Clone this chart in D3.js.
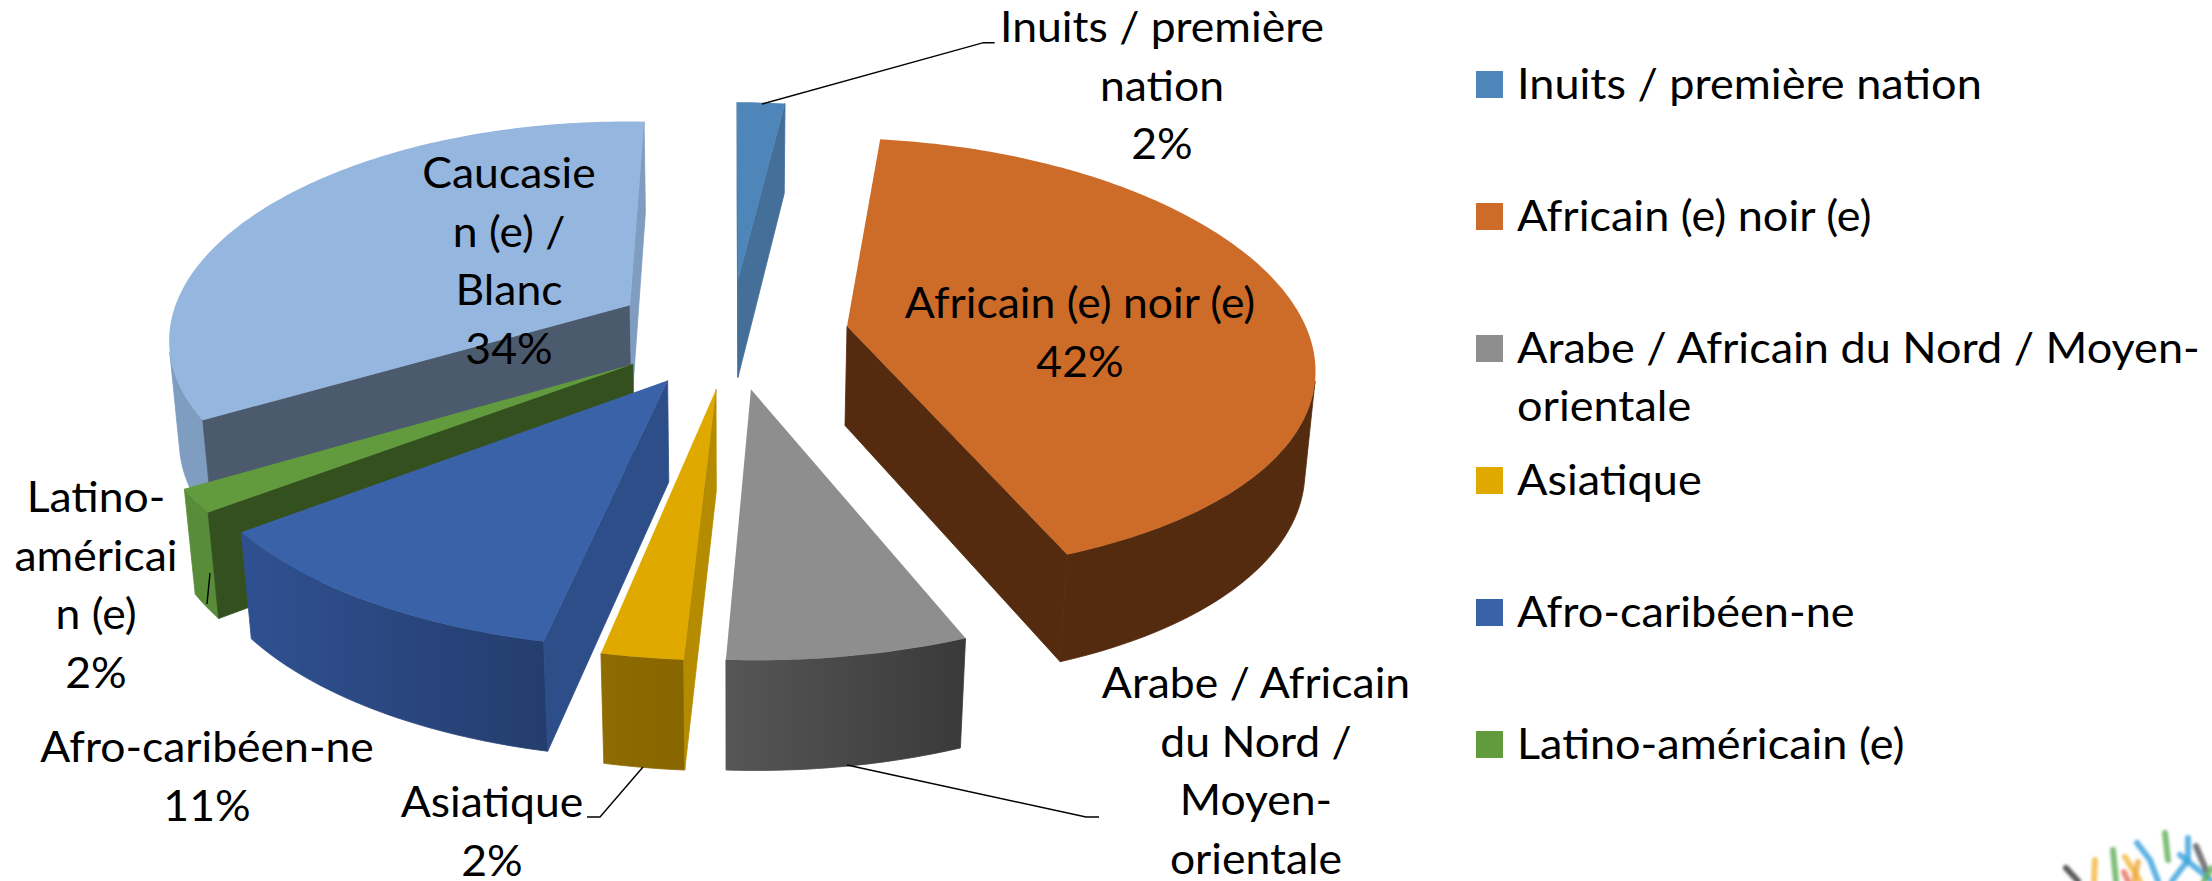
<!DOCTYPE html>
<html><head><meta charset="utf-8">
<script src="https://cdn.jsdelivr.net/npm/d3@7/dist/d3.min.js"></script>
<style>html,body{margin:0;padding:0;background:#fff;overflow:hidden}svg{display:block}text{font-family:Lato,"Open Sans",sans-serif;fill:#000}</style>
</head><body><svg id="c" width="2212" height="881"></svg>
<script>
// ---- data ----
const categories = ["Inuits / première nation","Africain (e) noir (e)","Arabe / Africain du Nord / Moyen-orientale","Asiatique","Afro-caribéen-ne","Latino-américain (e)","Caucasien (e) / Blanc"];
const values = [2,42,6.8,2.3,11.2,1.7,34];
const shownPercent = ["2%","42%",null,"2%","11%","2%","34%"];
const labelLines = [["Inuits / première","nation"],["Africain (e) noir (e)"],["Arabe / Africain","du Nord /","Moyen-","orientale"],["Asiatique"],["Afro-caribéen-ne"],["Latino-","américai","n (e)"],["Caucasie","n (e) /","Blanc"]];
const legendLines = [["Inuits / première nation"],["Africain (e) noir (e)"],["Arabe / Africain du Nord / Moyen-","orientale"],["Asiatique"],["Afro-caribéen-ne"],["Latino-américain (e)"]];
// ---- styles ----
const topColors   = ["#4f86ba","#cd6b28","#8e8e8e","#e0a900","#3a62a8","#629a3e","#95b6de"];
const startWall   = ["#436f99","#552b0f","#6a6a6a","#b58c00","#2d4e88","#35501f","#4b5b6d"];
const endWall     = ["#436f99","#552b0f","#6a6a6a","#b58c00","#2d4e88","#35501f","#7f9dc0"];
const outerLeft   = ["#436f99","#552b0f","#565656","#8f6c00","#2f5090","#588c38","#7f9dc0"];
const outerRight  = ["#436f99","#552b0f","#3a3a3a","#876500","#243d6e","#588c38","#7f9dc0"];
const paintOrder  = [6,0,1,5,4,3,2];
// ---- layout ----
const P = {cx:731, cy:333, R:461, sR:216, k:0.139, kx:0.165, m:0.025, mx:0.018, h:102, tilt:7, explode:0.255, lineH:58.5, fs:42.5};
const labelPos = [[1162,42],[1080,318],[1256,698],[492,817],[207,762],[96,512],[509,188]];
const leaders = [[[762,104],[983.5,42.7],[994.6,42.7]],[[847,765],[1086,817],[1099,817]],[[643,767],[600,817],[587,817]],[[210,573],[207,604]]];
const legend = {swatchX:1476, swatch:27, textX:1517, fs:43, lineH:58, base:27.5};
const legendTop = [71,203,335,467,599,731];
const textStretch = 1.047;
const logoStrokes = [
  ["#333",[[2066,868],[2078,881]]],["#f0b840",[[2095,860],[2094,881]]],["#5fae55",[[2113,850],[2116,881]]],
  ["#f0b840",[[2125,857],[2140,881]]],["#e8705a",[[2124,872],[2128,881]]],["#f0a840",[[2138,862],[2134,881]]],
  ["#3aa0dc",[[2137,843],[2150,860],[2158,881]]],["#3aa0dc",[[2188,838],[2188,860],[2172,881]]],["#5fae55",[[2165,833],[2168,860]]],
  ["#3aa0dc",[[2180,855],[2212,881]]],["#555",[[2196,846],[2206,870]]],["#5fae55",[[2212,868],[2204,881]]]];

const svg = d3.select("#c");
const project = (X,Y,Z)=>[P.cx+P.R*X/(1+P.kx*Y+P.mx*Z), P.cy+(-P.sR*Y+P.h*Z)/(1+P.k*Y+P.m*Z)+P.tilt*Math.min(X,0)];
const area2 = pts=>{let s=0;pts.forEach((p,i)=>{const q=pts[(i+1)%pts.length];s+=p[0]*q[1]-q[0]*p[1];});return s;};
const line = d3.line();
const poly = pts=>line(pts)+"Z";

const defs = svg.append("defs");
defs.append("filter").attr("id","soft").append("feGaussianBlur").attr("stdDeviation",1.6);

const arcs = d3.pie().sort(null).value(d=>d)(values);
const slices = svg.append("g").attr("class","pie");

paintOrder.forEach(i=>{
  const a = arcs[i], mid=(a.startAngle+a.endAngle)/2;
  const ex=P.explode*Math.sin(mid), ey=P.explode*Math.cos(mid);
  const n=Math.max(2,Math.round((a.endAngle-a.startAngle)/(Math.PI/180)));
  const angle=d3.scaleLinear().domain([0,n]).range([a.startAngle,a.endAngle]);
  const rim=d3.range(n+1).map(j=>[ex+Math.sin(angle(j)),ey+Math.cos(angle(j))]);
  const pt=(c,z)=>project(c[0],c[1],z);
  const g=slices.append("g");
  const quad=(p,q)=>[pt(p,0),pt(q,0),pt(q,1),pt(p,1)];
  const wall=(p,q,fill)=>{const f=quad(p,q);
    if(area2(f)<0) g.append("path").attr("d",poly(f)).attr("fill",fill).attr("stroke",fill).attr("stroke-width",0.8);};
  // outer rim: one smooth polygon per run of front-facing segments
  const gid="rim"+i;
  const xs=rim.map(c=>pt(c,1)[0]);
  const grad=defs.append("linearGradient").attr("id",gid).attr("gradientUnits","userSpaceOnUse")
    .attr("x1",d3.min(xs)).attr("x2",d3.max(xs)).attr("y1",0).attr("y2",0);
  grad.append("stop").attr("offset",0).attr("stop-color",outerLeft[i]);
  grad.append("stop").attr("offset",1).attr("stop-color",outerRight[i]);
  let run=[];
  const flush=()=>{ if(run.length>1){
      g.append("path").attr("d",poly([...run.map(c=>pt(c,0)),...run.slice().reverse().map(c=>pt(c,1))]))
       .attr("fill",`url(#${gid})`).attr("stroke",`url(#${gid})`).attr("stroke-width",0.8);
    } run=[]; };
  for(let j=0;j<n;j++){
    if(area2(quad(rim[j],rim[j+1]))<0){ if(!run.length) run.push(rim[j]); run.push(rim[j+1]); }
    else flush();
  }
  flush();
  wall([ex,ey],rim[0],startWall[i]);
  wall(rim[n],[ex,ey],endWall[i]);
  g.append("path").attr("d",poly([pt([ex,ey],0),...rim.map(c=>pt(c,0))])).attr("fill",topColors[i]);
});

// leader lines
svg.append("g").selectAll("path").data(leaders).join("path").attr("d",d=>line(d)).attr("fill","none").attr("stroke","#000").attr("stroke-width",1.4);

// data labels
const lab=svg.append("g").attr("font-size",P.fs).attr("text-anchor","middle");
labelLines.forEach((ls,i)=>{
  const lines=shownPercent[i]?[...ls,shownPercent[i]]:ls;
  lines.forEach((t,j)=>lab.append("text").attr("x",labelPos[i][0]).attr("y",labelPos[i][1]+j*P.lineH).text(t));
});

// legend
const lg=svg.append("g").selectAll("g").data(legendLines).join("g");
lg.append("rect").attr("x",legend.swatchX).attr("y",(d,i)=>legendTop[i]).attr("width",legend.swatch).attr("height",legend.swatch).attr("fill",(d,i)=>topColors[i]);
lg.each(function(ls,i){ls.forEach((t,j)=>d3.select(this).append("text").attr("x",legend.textX).attr("y",legendTop[i]+legend.base+j*legend.lineH).attr("font-size",legend.fs).text(t));});

// Calibri-like proportions: Lato at a lower height, widened slightly
svg.selectAll("text").each(function(){
  this.setAttribute("textLength",this.getComputedTextLength()*textStretch);
  this.setAttribute("lengthAdjust","spacingAndGlyphs");
});

// faint logo, bottom right corner
svg.append("g").attr("filter","url(#soft)").selectAll("path").data(logoStrokes).join("path")
  .attr("d",d=>line(d[1])).attr("fill","none").attr("stroke",d=>d[0]).attr("stroke-width",6).attr("stroke-linecap","round").attr("opacity",0.8);
</script></body></html>
